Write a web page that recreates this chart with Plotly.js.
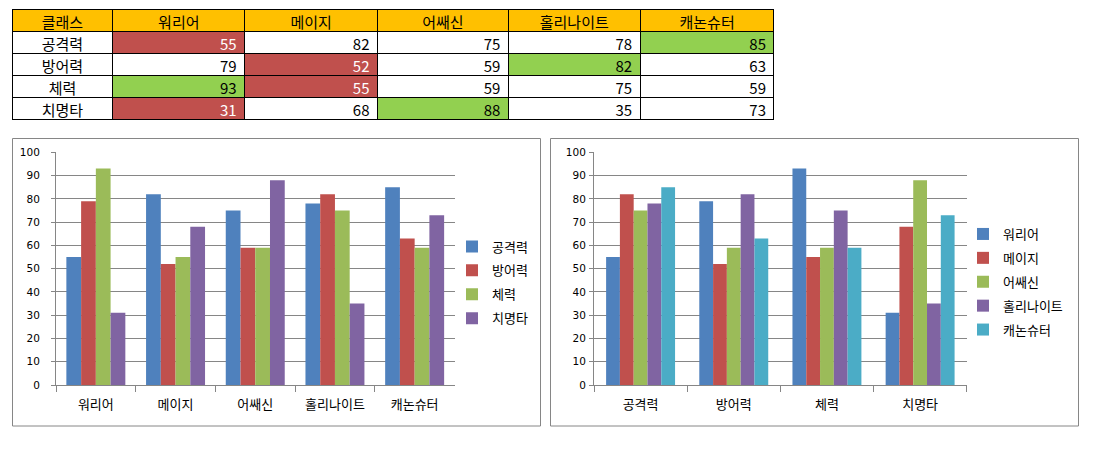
<!DOCTYPE html>
<html>
<head>
<meta charset="utf-8">
<script src="https://cdn.plot.ly/plotly-3.0.1.min.js"></script>
<style>
  html, body { margin: 0; padding: 0; background: #ffffff; }
  #chart { width: 1101px; height: 455px; }
</style>
</head>
<body>
<div id="chart"></div>
<script>
// Class names and stat names
const classes = ['워리어', '메이지', '어쌔신', '홀리나이트', '캐논슈터'];
const stats = ['공격력', '방어력', '체력', '치명타'];

// Stat values per class (same order as classes)
const attack   = [55, 82, 75, 78, 85];
const defense  = [79, 52, 59, 82, 63];
const stamina  = [93, 55, 59, 75, 59];
const critical = [31, 68, 88, 35, 73];

const headerLabel = '클래스';

// Office-style series palette
const palette = ['#4F81BD', '#C0504D', '#9BBB59', '#8064A2', '#4BACC6'];
const highColor = '#92D050';
const lowColor = '#C0504D';
const headerColor = '#FFC000';
const frameColor = '#868686';

const W = 1101, H = 455;
const px = v => v / W;          // pixel -> paper x
const py = v => 1 - v / H;      // pixel (from top) -> paper y

const statRows = [attack, defense, stamina, critical];
const korFont = 'Noto Sans CJK KR, sans-serif';
const numFont = 'DejaVu Sans, Noto Sans CJK KR, sans-serif';

// ---- table: one column per class, highest value per row green, lowest red
const tableColumns = [stats].concat(classes.map((c, j) => statRows.map(r => r[j])));
const rowMax = statRows.map(r => Math.max.apply(null, r));
const rowMin = statRows.map(r => Math.min.apply(null, r));
const fillCols = [stats.map(() => '#ffffff')].concat(classes.map((c, j) =>
  statRows.map((r, i) => r[j] === rowMax[i] ? highColor : (r[j] === rowMin[i] ? lowColor : '#ffffff'))));
const fontCols = fillCols.map(col => col.map(f => f === lowColor ? '#ffffff' : '#000000'));

const table = {
  type: 'table',
  domain: { x: [px(12), px(775)], y: [py(123), py(9)] },
  columnwidth: [101, 132, 133, 131, 132, 134],
  header: {
    values: [headerLabel].concat(classes),
    align: 'center',
    height: 22,
    fill: { color: headerColor },
    line: { color: '#000000', width: 1 },
    font: { family: korFont, size: 15, color: '#000000' }
  },
  cells: {
    values: tableColumns,
    align: ['center', 'right', 'right', 'right', 'right', 'right'],
    height: 22,
    fill: { color: fillCols },
    line: { color: '#000000', width: 1 },
    font: { family: korFont, size: 15, color: fontCols }
  }
};

// ---- left chart: classes on the x axis, one series per stat
const leftBars = stats.map((s, i) => ({
  type: 'bar',
  name: s,
  x: classes,
  y: statRows[i],
  marker: { color: palette[i] },
  xaxis: 'x', yaxis: 'y',
  legend: 'legend',
  legendgroup: 'L' + i
}));

// ---- right chart: stats on the x axis, one series per class
const rightBars = classes.map((c, j) => ({
  type: 'bar',
  name: c,
  x: stats,
  y: statRows.map(r => r[j]),
  marker: { color: palette[j] },
  xaxis: 'x2', yaxis: 'y2',
  legend: 'legend2',
  legendgroup: 'R' + j
}));

const xAxisBase = {
  type: 'category',
  tickson: 'boundaries',
  ticks: 'outside',
  ticklen: 6,
  tickcolor: frameColor,
  showline: true,
  linecolor: frameColor,
  showgrid: false,
  zeroline: false,
  ticklabelstandoff: 7,
  tickfont: { family: korFont, size: 13, color: '#000000' },
  fixedrange: true
};
const yAxisBase = {
  range: [0, 100],
  dtick: 10,
  ticks: 'outside',
  ticklen: 4,
  tickcolor: frameColor,
  showline: true,
  linecolor: frameColor,
  showgrid: true,
  gridcolor: frameColor,
  gridwidth: 1,
  zeroline: false,
  tickfont: { family: numFont, size: 10.5, color: '#000000' },
  fixedrange: true
};
const legendBase = {
  xref: 'paper', yref: 'paper',
  xanchor: 'left', yanchor: 'top',
  bgcolor: 'rgba(0,0,0,0)',
  traceorder: 'grouped',
  tracegroupgap: 4,
  font: { family: korFont, size: 13, color: '#000000' }
};

const layout = {
  width: W, height: H,
  margin: { l: 0, r: 0, t: 0, b: 0 },
  paper_bgcolor: '#ffffff',
  plot_bgcolor: 'rgba(0,0,0,0)',
  bargap: 0.26,
  bargroupgap: 0,
  barmode: 'group',
  xaxis: Object.assign({}, xAxisBase, { domain: [px(56), px(454.5)], anchor: 'y' }),
  yaxis: Object.assign({}, yAxisBase, { domain: [py(385), py(152.3)], anchor: 'x', ticklabelstandoff: 9 }),
  xaxis2: Object.assign({}, xAxisBase, { domain: [px(594), px(966.7)], anchor: 'y2' }),
  yaxis2: Object.assign({}, yAxisBase, { domain: [py(385), py(152.3)], anchor: 'x2', ticklabelstandoff: 1 }),
  legend: Object.assign({}, legendBase, { x: px(452), y: py(231.5) }),
  legend2: Object.assign({}, legendBase, { x: px(963), y: py(219) }),
  shapes: [
    { type: 'rect', xref: 'paper', yref: 'paper', x0: px(12.5), x1: px(540.5), y0: py(426), y1: py(138.5),
      line: { color: frameColor, width: 1 }, fillcolor: 'rgba(0,0,0,0)', layer: 'below' },
    { type: 'rect', xref: 'paper', yref: 'paper', x0: px(550.5), x1: px(1078.5), y0: py(426), y1: py(138.5),
      line: { color: frameColor, width: 1 }, fillcolor: 'rgba(0,0,0,0)', layer: 'below' }
  ]
};

Plotly.newPlot('chart', [table].concat(leftBars, rightBars), layout, { displayModeBar: false, responsive: false });
</script>
</body>
</html>
